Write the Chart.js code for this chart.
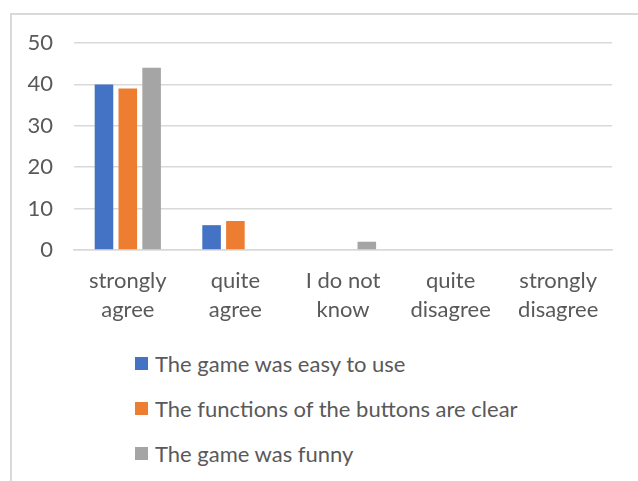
<!DOCTYPE html>
<html>
<head>
<meta charset="utf-8">
<script src="https://cdn.jsdelivr.net/npm/chart.js@4.4.1/dist/chart.umd.min.js"></script>
<style>
  body { margin: 0; background: #fff; }
  #frame {
    position: absolute; left: 10px; top: 13px; width: 640px; height: 480px;
    border-left: 2px solid #d9d9d9; border-top: 2px solid #d9d9d9;
  }
  #wrap { position: absolute; left: 0; top: 0; width: 638px; height: 330px; }
  #legend {
    position: absolute; left: 135px; top: 341px;
    font-family: Lato, sans-serif; font-size: 22px; color: #595959;
  }
  .item { display: flex; align-items: center; height: 45px; }
  .box { width: 13px; height: 13px; margin-right: 7px; }
</style>
</head>
<body>
<div id="frame"></div>
<div id="wrap"><canvas id="chart"></canvas></div>
<div id="legend"></div>
<script>
const categories = [
  ['strongly', 'agree'],
  ['quite', 'agree'],
  ['I do not', 'know'],
  ['quite', 'disagree'],
  ['strongly', 'disagree']
];
const easyToUse = [40, 6, 0, 0, 0];
const buttonsClear = [39, 7, 0, 0, 0];
const gameFunny = [44, 0, 2, 0, 0];
const seriesNames = [
  'The game was easy to use',
  'The functions of the buttons are clear',
  'The game was funny'
];
const colors = ['#4472C4', '#ED7D31', '#A5A5A5'];

const font = { family: 'Lato, sans-serif', size: 22 };

const chart = new Chart(document.getElementById('chart'), {
  type: 'bar',
  data: {
    labels: categories,
    datasets: [easyToUse, buttonsClear, gameFunny].map((d, i) => ({
      label: seriesNames[i],
      data: d,
      backgroundColor: colors[i],
      categoryPercentage: 0.664,
      barPercentage: 0.78
    }))
  },
  options: {
    responsive: true,
    maintainAspectRatio: false,
    animation: false,
    layout: { padding: { top: 43, right: 26, left: 0, bottom: 0 } },
    plugins: {
      legend: { display: false },
      tooltip: { enabled: false }
    },
    scales: {
      x: {
        grid: { display: false, drawTicks: false },
        border: { color: '#d9d9d9', width: 1.5 },
        ticks: { color: '#595959', font: { ...font, lineHeight: 1.32 }, padding: 16, maxRotation: 0 },
        afterFit: s => { s.height = 80; }
      },
      y: {
        min: 0,
        max: 50,
        ticks: { stepSize: 10, color: '#595959', font, padding: 21 },
        grid: { color: '#d9d9d9', lineWidth: 1.5, drawTicks: false },
        border: { display: false },
        afterFit: s => { s.width = 74; }
      }
    }
  }
});

const legend = document.getElementById('legend');
chart.data.datasets.forEach(ds => {
  const item = document.createElement('div');
  item.className = 'item';
  const box = document.createElement('span');
  box.className = 'box';
  box.style.background = ds.backgroundColor;
  const text = document.createElement('span');
  text.textContent = ds.label;
  item.appendChild(box);
  item.appendChild(text);
  legend.appendChild(item);
});
</script>
</body>
</html>
